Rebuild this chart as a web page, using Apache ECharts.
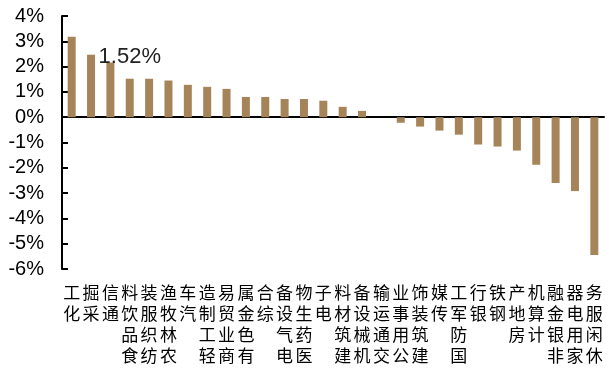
<!DOCTYPE html>
<html>
<head>
<meta charset="utf-8">
<script src="https://cdn.jsdelivr.net/npm/echarts@6/dist/echarts.min.js"></script>
<style>
  html, body { margin: 0; padding: 0; background: #fff; }
  #chart { width: 609px; height: 371px; }
</style>
</head>
<body>
<div id="chart"></div>
<script>
// Industry names (x axis) and their percentage change
const categories = ['化工','采掘','通信','食品饮料','纺织服装','农林牧渔','汽车','轻工制造','商业贸易','有色金属','综合','电气设备','医药生物','电子','建筑材料','机械设备','交通运输','公用事业','建筑装饰','传媒','国防军工','银行','钢铁','房地产','计算机','非银金融','家用电器','休闲服务'];
const changes = [3.18, 2.47, 2.16, 1.52, 1.52, 1.45, 1.28, 1.20, 1.12, 0.80, 0.80, 0.72, 0.72, 0.65, 0.41, 0.25, 0.0, -0.22, -0.37, -0.53, -0.69, -1.08, -1.16, -1.32, -1.88, -2.60, -2.92, -5.45];
const labelledIndustry = '食品饮料';
const yTicks = { min: -6, max: 4, step: 1 };

const latin = 'Liberation Sans, Arial, sans-serif';
const cjk = '"Noto Sans CJK SC", sans-serif';

const chart = echarts.init(document.getElementById('chart'), null, { renderer: 'canvas' });

chart.setOption({
  animation: false,
  backgroundColor: '#fff',
  grid: { left: 62, right: 5, top: 16, bottom: 102 },
  xAxis: [
    {
      type: 'category',
      data: categories,
      axisLine: { onZero: true, lineStyle: { color: '#000', width: 2 } },
      axisTick: { inside: true, length: 6, lineStyle: { color: '#000', width: 2 } },
      axisLabel: { show: false },
      splitLine: { show: false }
    },
    {
      // names stacked vertically, one character per line, read bottom to top
      type: 'category',
      data: categories,
      position: 'bottom',
      axisLine: { show: false, onZero: false },
      axisTick: { show: false },
      axisLabel: {
        interval: 0,
        margin: 13,
        fontFamily: cjk,
        fontSize: 17,
        lineHeight: 21,
        color: '#000',
        verticalAlign: 'top',
        formatter: v => v.split('').reverse().join('\n')
      }
    }
  ],
  yAxis: {
    type: 'value',
    min: yTicks.min,
    max: yTicks.max,
    interval: yTicks.step,
    axisLine: { show: true, lineStyle: { color: '#000', width: 2 } },
    axisTick: { show: true, inside: true, length: 6, lineStyle: { color: '#000', width: 2 } },
    axisLabel: {
      margin: 18,
      fontFamily: latin,
      fontSize: 20,
      color: '#000',
      formatter: v => v + '%'
    },
    splitLine: { show: false }
  },
  series: [{
    type: 'bar',
    xAxisIndex: 0,
    barWidth: 8,
    itemStyle: { color: '#A6845A' },
    data: changes.map((v, i) => ({
      value: v,
      label: categories[i] === labelledIndustry ? {
        show: true,
        position: 'top',
        distance: 11,
        fontFamily: latin,
        fontSize: 22,
        color: '#222',
        formatter: p => p.value.toFixed(2) + '%'
      } : { show: false }
    }))
  }]
});
</script>
</body>
</html>
